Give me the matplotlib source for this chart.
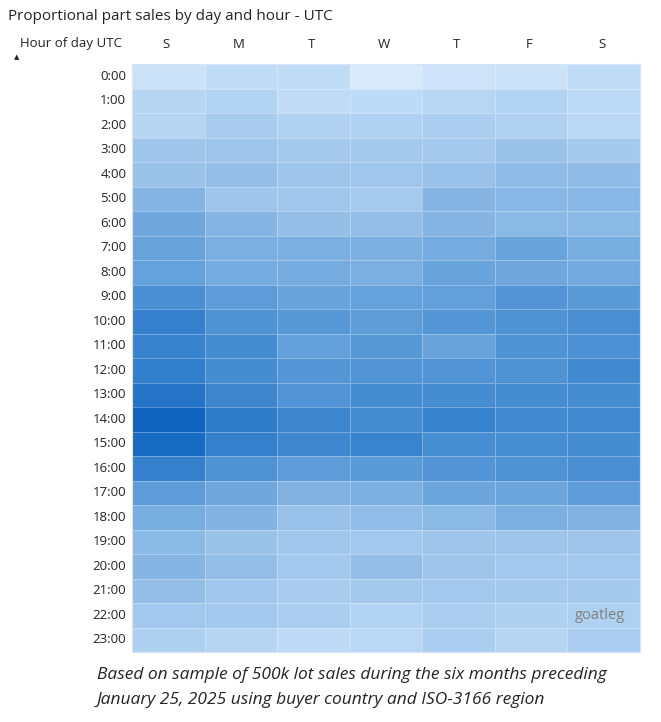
import numpy as np
import matplotlib.pyplot as plt
from matplotlib.colors import LinearSegmentedColormap

# data (relative intensity 0..100)
days = ['S', 'M', 'T', 'W', 'T', 'F', 'S']
hours = ['%d:00' % h for h in range(24)]
h00 = [16, 24, 24, 5, 14, 16, 24]
h01 = [33, 35, 25, 28, 32, 35, 28]
h02 = [33, 42, 37, 37, 40, 37, 30]
h03 = [48, 48, 44, 44, 44, 50, 44]
h04 = [50, 52, 48, 47, 51, 55, 55]
h05 = [58, 48, 47, 43, 58, 57, 57]
h06 = [66, 58, 52, 53, 58, 56, 56]
h07 = [69, 62, 62, 61, 64, 69, 63]
h08 = [70, 64, 64, 62, 68, 66, 65]
h09 = [80, 73, 68, 70, 71, 77, 74]
h10 = [88, 78, 75, 72, 76, 78, 80]
h11 = [87, 82, 71, 75, 68, 78, 79]
h12 = [89, 82, 76, 77, 77, 78, 83]
h13 = [93, 85, 77, 82, 82, 82, 82]
h14 = [100, 90, 85, 82, 87, 83, 83]
h15 = [97, 88, 84, 86, 81, 81, 82]
h16 = [88, 78, 73, 74, 77, 78, 80]
h17 = [73, 66, 60, 61, 67, 67, 73]
h18 = [63, 59, 51, 54, 56, 62, 60]
h19 = [56, 50, 47, 45, 48, 48, 48]
h20 = [58, 53, 45, 53, 48, 45, 45]
h21 = [52, 46, 42, 44, 45, 44, 44]
h22 = [45, 45, 40, 35, 40, 38, 38]
h23 = [38, 33, 27, 30, 40, 33, 40]

rows = [h00, h01, h02, h03, h04, h05, h06, h07, h08, h09, h10, h11,
        h12, h13, h14, h15, h16, h17, h18, h19, h20, h21, h22, h23]
vals = np.array(rows, dtype=float)

# Power BI style blue gradient (not linear in value)
cmap = LinearSegmentedColormap.from_list('pbi', [
    (0.0, '#deedfd'), (0.3, '#bad8f5'), (0.5, '#9cc3ea'),
    (0.73, '#5d9cd8'), (0.88, '#3581cc'), (1.0, '#1064c0')])

W, H = 661, 722
fig = plt.figure(figsize=(W / 100, H / 100), dpi=100)
fig.patch.set_facecolor('white')

# grid area in pixels: x 132..640, y 64..652
ax = fig.add_axes([132 / W, 1 - 652 / H, (640 - 132) / W, (652 - 64) / H])
ax.pcolormesh(vals, cmap=cmap, vmin=0, vmax=100, edgecolors=(1, 1, 1, 0.3),
              linewidth=0.6)
ax.set_xlim(0, 7)
ax.set_ylim(24, 0)
for s in ax.spines.values():
    s.set_color('#d6e6f7')
    s.set_linewidth(0.8)
ax.set_xticks([])
ax.set_yticks([])

# row labels
for i, lab in enumerate(hours):
    ax.text(-0.08, i + 0.5, lab, ha='right', va='center', fontsize=9.5,
            color='#252423', family='Open Sans')

# column labels
for j, d in enumerate(days):
    fig.text((130 + 72.6 * (j + 0.5)) / W, 1 - 44 / H, d, ha='center', va='center',
             fontsize=9.5, color='#252423', family='Open Sans')

fig.text(20 / W, 1 - 44 / H, 'Hour of day UTC', ha='left', va='center',
         fontsize=9.5, color='#252423', family='Open Sans')
fig.text(17 / W, 1 - 57 / H, '\u25b2', ha='center', va='center',
         fontsize=5, color='#252423')

fig.text(8 / W, 1 - 17 / H, 'Proportional part sales by day and hour - UTC',
         ha='left', va='center', fontsize=11, color='#252423', family='Open Sans')

# watermark
ax.text(6.45, 22.5, 'goatleg', ha='center', va='center', fontsize=10.5,
        color='#808080', family='Open Sans')

# footer
fig.text(97 / W, 1 - 675 / H,
         'Based on sample of 500k lot sales during the six months preceding',
         ha='left', va='center', fontsize=12.5, style='italic', color='#252423',
         family='Open Sans')
fig.text(97 / W, 1 - 700 / H,
         'January 25, 2025 using buyer country and ISO-3166 region',
         ha='left', va='center', fontsize=12.5, style='italic', color='#252423',
         family='Open Sans')

fig.savefig('out.png', dpi=100, facecolor='white')
